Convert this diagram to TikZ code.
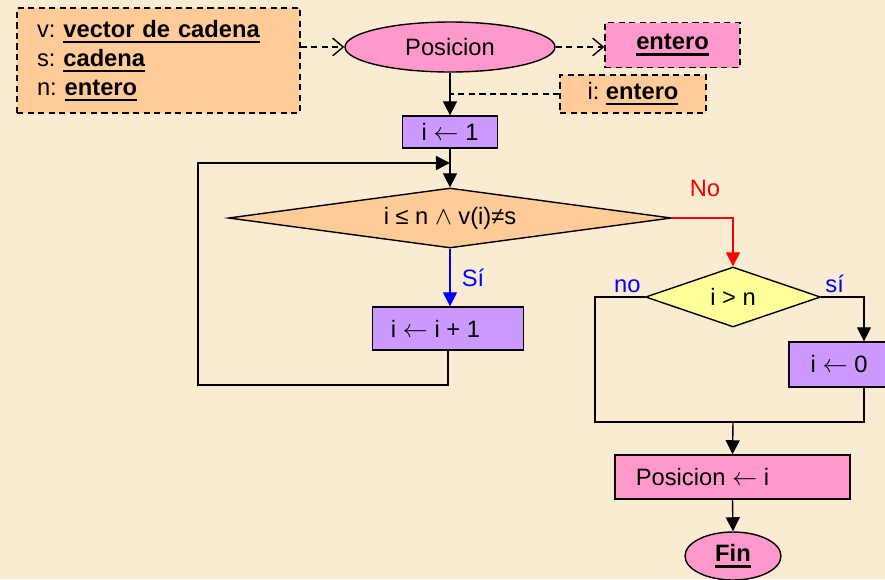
\documentclass[tikz,border=0pt]{standalone}
\usepackage{fontspec}
\setmainfont{Liberation Sans}
\usepackage{xcolor}
\usetikzlibrary{arrows.meta,shapes.geometric}

\definecolor{fondo}{HTML}{FAECD2}
\definecolor{durazno}{HTML}{FFCC99}
\definecolor{rosa}{HTML}{FF99CC}
\definecolor{lila}{HTML}{CC99FF}
\definecolor{amarillo}{HTML}{FFFF99}
\definecolor{azul}{HTML}{0000FF}

\newsavebox{\subrcaja}
\newcommand{\subr}[1]{\sbox{\subrcaja}{\textbf{#1}}\rlap{\rule[-3.3pt]{\wd\subrcaja}{1.3pt}}\usebox{\subrcaja}}

\begin{document}
\begin{tikzpicture}[x=0.02cm,y=-0.02cm,line width=.8pt,
    font=\fontsize{13.5}{16.5}\selectfont,
    caja/.style={draw=black,rectangle,inner sep=0pt},
    elipse/.style={draw=black,ellipse,fill=rosa,inner sep=0pt},
    rombo/.style={draw=black,diamond,inner sep=0pt},
    flecha/.style={-{Triangle[length=8pt,width=8pt]}},
    punteada/.style={dash pattern=on 3.5pt off 2.5pt},
    abierta/.style={punteada,-{Straight Barb[length=6pt,width=10pt]}}]
    \path[use as bounding box,fill=fondo] (0,0) rectangle (885,579);

    \node[caja,fill=durazno,punteada,minimum width=5.66cm,minimum height=2.1cm,
      text width=4.86cm,align=left,inner xsep=0.4cm] (datos) at (158.5,60.5)
      {v:~\subr{vector de cadena}\\ s:~\subr{cadena}\\ n:~\subr{entero}};
    \node[elipse,minimum width=4.2cm,minimum height=1cm] (pos) at (450,47) {Posicion};
    \node[caja,fill=rosa,punteada,minimum width=2.7cm,minimum height=0.9cm] (res) at (672.5,45) {\subr{entero}};
    \node[caja,fill=durazno,punteada,minimum width=2.92cm,minimum height=0.76cm] (loc) at (633,94) {i:~\subr{entero}};
    \node[caja,fill=lila,minimum width=1.9cm,minimum height=0.64cm] (ini) at (450,132) {i $\leftarrow$ 1};
    \node[rombo,fill=durazno,aspect=7.4,minimum width=8.86cm,minimum height=1.2cm] (cond) at (450,218) {i ≤ n $\wedge$ v(i)≠s};
    \node[caja,fill=lila,minimum width=3.02cm,minimum height=0.86cm] (inc) at (448,328.5) {i $\leftarrow$ i + 1\rule{0.5cm}{0pt}};
    \node[rombo,fill=amarillo,aspect=2.9,minimum width=3.5cm,minimum height=1.2cm] (cond2) at (733,297) {i > n};
    \node[caja,fill=lila,minimum width=2cm,minimum height=0.9cm] (cero) at (839,364.5) {i $\leftarrow$ 0};
    \node[caja,fill=rosa,minimum width=4.7cm,minimum height=0.88cm] (asig) at (732.5,477) {Posicion $\leftarrow$ i\rule{1.2cm}{0pt}};
    \node[elipse,minimum width=1.92cm,minimum height=0.96cm] (fin) at (733,556) {\subr{Fin}};

    \coordinate (vuelta) at (198,385);
    \coordinate (entrada) at (450,163);
    \coordinate (union) at (733,422);

    \draw[abierta] (datos.east |- pos.west) -- (pos.west);
    \draw[abierta] (pos.east) -- (pos.east -| res.west);
    \draw[punteada] (loc.west) -- (loc.west -| pos.south);
    \draw[flecha] (pos.south) -- (ini.north);
    \draw[flecha] (ini.south) -- (cond.north);
    \draw[flecha] (inc.south) |- (vuelta) |- (entrada);
    \draw[flecha,azul] (cond.south) -- (cond.south |- inc.north) node[midway,right,xshift=3pt] {Sí};
    \draw[flecha,red] (cond.east) -| (cond2.north) node[pos=0.27,above=0.3cm] {No};
    \draw (cond2.west) node[above left,azul,inner sep=2pt] {no} -- ([xshift=-1cm]cond2.west) |- (union);
    \draw[flecha] (cond2.east) node[above right,azul,inner sep=2pt] {sí} -| ([xshift=0.5cm]cero.north);
    \draw ([xshift=0.5cm]cero.south) |- (union);
    \draw[flecha] (union) -- (asig.north);
    \draw[flecha] (asig.south) -- (fin.north);
  \end{tikzpicture}
\end{document}
